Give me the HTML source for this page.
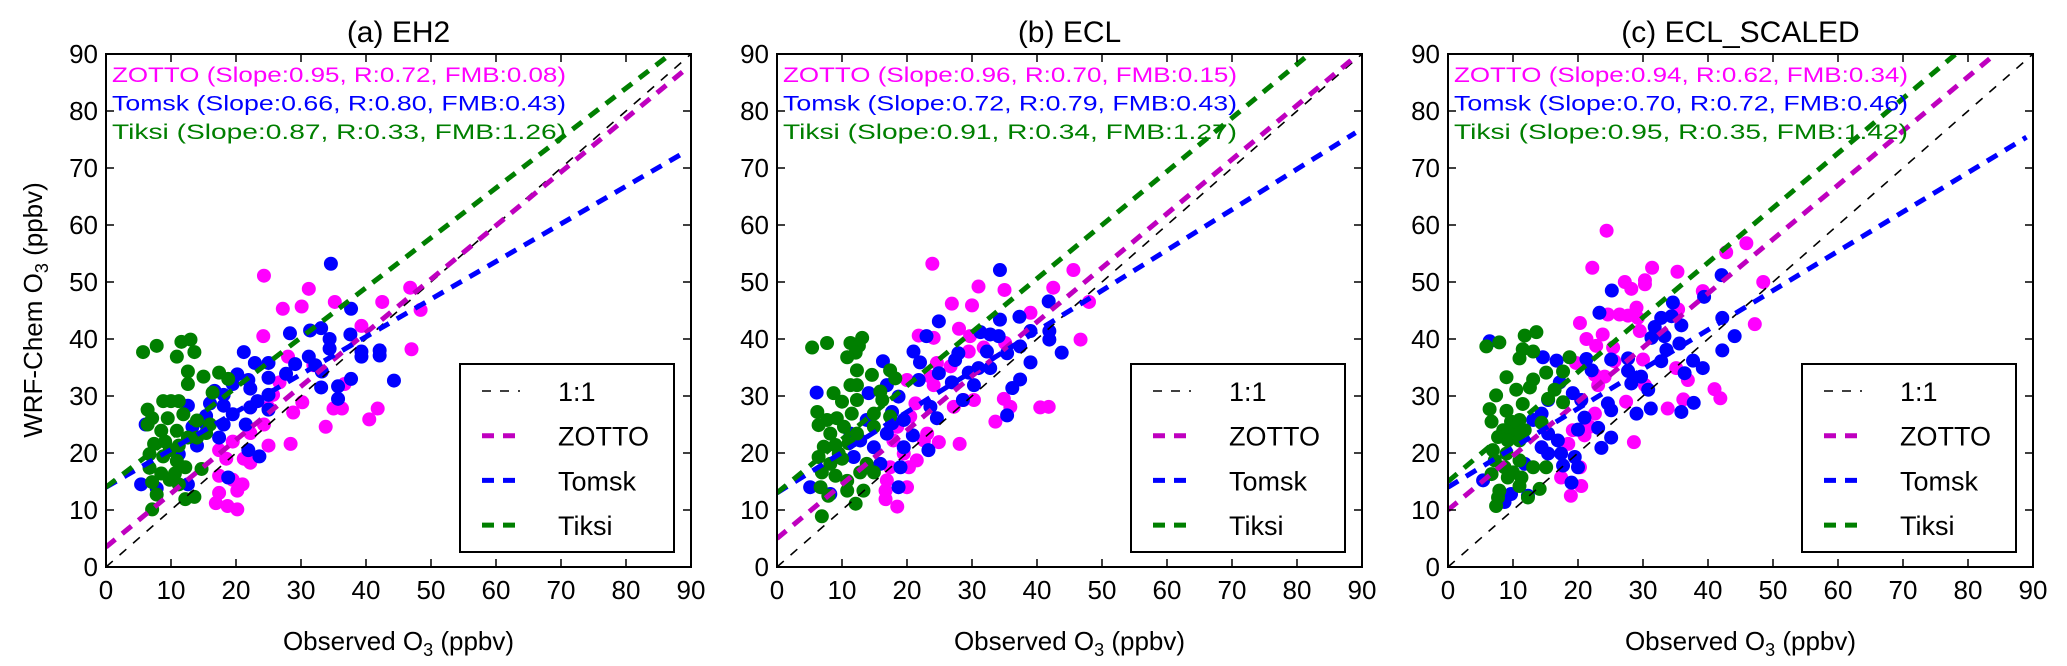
<!DOCTYPE html>
<html><head><meta charset="utf-8"><style>
body{margin:0;background:#fff;}
svg{display:block;font-family:"Liberation Sans",sans-serif;}
</style></head><body>
<svg id="chart" width="2067" height="666" viewBox="0 0 2067 666"></svg>
<script>
const panelTitles = ["(a) EH2", "(b) ECL", "(c) ECL_SCALED"];
const axisTicks = [0,10,20,30,40,50,60,70,80,90];
const seriesNames = ["ZOTTO","Tomsk","Tiksi"];
const statsA = ["ZOTTO (Slope:0.95, R:0.72, FMB:0.08)","Tomsk (Slope:0.66, R:0.80, FMB:0.43)","Tiksi (Slope:0.87, R:0.33, FMB:1.26)"];
const statsB = ["ZOTTO (Slope:0.96, R:0.70, FMB:0.15)","Tomsk (Slope:0.72, R:0.79, FMB:0.43)","Tiksi (Slope:0.91, R:0.34, FMB:1.27)"];
const statsC = ["ZOTTO (Slope:0.94, R:0.62, FMB:0.34)","Tomsk (Slope:0.70, R:0.72, FMB:0.46)","Tiksi (Slope:0.95, R:0.35, FMB:1.42)"];
// regression lines: [intercept, slope]
const fitA = [[3.5,0.94],[14,0.66],[14,0.875]];
const fitB = [[5,0.95],[13,0.71],[13,0.94]];
const fitC = [[10,0.95],[14,0.69],[15,0.96]];
const zottoA = [[24.3,51.1],[31.2,48.8],[27.2,45.3],[30.1,45.7],[35.2,46.5],[42.5,46.5],[46.8,49],[48.4,45.1],[39.3,42.3],[24.2,40.5],[28,36.9],[47,38.2],[30.2,28.9],[28.8,27.1],[35,27.8],[36.3,27.8],[41.8,27.8],[40.5,25.9],[33.8,24.6],[28.4,21.6],[25,21.3],[22.2,23.5],[25,28],[26.7,32.4],[22.2,28],[19.5,22],[17.4,20.5],[21.2,19],[17.4,16],[19.5,15.3],[21,14.5],[17.4,13],[16.9,11.2],[18.7,10.7],[20.2,13.4],[22.2,18.3],[36.7,32.1],[31.9,35.4],[25.7,30.2],[24.3,25],[18.5,19],[20.2,10.1]];
const tomskA = [[34.6,53.2],[37.7,45.3],[31.4,41.5],[33.1,41.9],[34.4,40],[34.4,38.3],[28.3,41],[21.2,37.7],[37.6,40.8],[39.3,37.8],[39.3,36.9],[42.1,38],[42.1,37.1],[44.3,32.7],[37.7,33],[35.7,31.7],[33.1,31.5],[35.7,29.5],[29.1,35.6],[31.2,36.9],[32.2,35.4],[33.2,34.3],[25,35.8],[22.9,35.8],[27.7,33.9],[25,33.2],[21.9,32.8],[20.2,33.8],[19.5,32.1],[22.2,31.3],[25,30.2],[23.3,29.1],[22.2,28],[25,27.6],[18.1,30.2],[16.7,30.9],[16,28.7],[18.1,28.3],[19.5,26.8],[18.1,25],[15.4,25],[17.4,22.7],[14,21.3],[11.2,19.8],[21.5,25],[21.9,20.5],[23.6,19.4],[18.8,15.7],[12.6,14.5],[7.8,13.8],[5.4,14.5],[6.1,25],[13.3,24.6],[12.6,28.3],[15.4,26.5]];
const tiksiA = [[5.7,37.7],[7.8,38.8],[10.9,36.9],[11.6,39.5],[13,39.9],[13.6,37.7],[12.6,34.3],[12.6,32.1],[15,33.4],[17.4,34.1],[18.8,33],[16.4,30.6],[8.8,29.1],[10,29.1],[11.2,29.1],[6.4,27.6],[7.1,26.1],[9.5,26.1],[11.9,26.8],[14,25.7],[16,25],[6.4,25],[8.5,23.9],[10.9,23.9],[12.6,22.7],[7.4,21.6],[9.1,22],[11.2,21.3],[14,22.7],[15.4,23.5],[6.7,19.8],[8.8,19.4],[10.9,18.6],[6.7,17.4],[8.5,16.4],[10.6,16.4],[12.2,17.5],[14.7,17.2],[7.1,14.9],[9.8,15.3],[11.2,14.5],[7.8,12.7],[12.2,11.9],[13.6,12.3],[7.1,10.1],[9.8,20.5]];
const zottoB = [[23.9,53.2],[31,49.2],[35,48.6],[26.9,46.2],[30,45.9],[45.6,52.1],[42.5,49],[48,46.5],[39,44.6],[28,41.8],[21.8,40.6],[24.1,40.2],[29.7,40.5],[35.1,39.3],[46.7,39.9],[29.5,37.8],[24.6,35.8],[26.7,35.2],[23.6,33.4],[20,32.8],[24.1,31.9],[28.7,29.3],[30.3,29.3],[27.2,28.1],[34.9,29.5],[35.9,28.1],[40.5,28],[41.8,28.1],[33.6,25.5],[21.3,28.7],[20.5,26.4],[23.1,23.4],[24.9,21.9],[28.1,21.6],[17.9,22.2],[19.5,19.9],[21.5,18.7],[17.4,17.5],[20.3,17.5],[16.9,15.2],[20,14],[16.7,13.4],[16.7,11.9],[18.5,10.6],[22.6,22.2],[18.5,24.6],[31.8,38.5]];
const tomskB = [[34.3,52.1],[41.8,46.6],[24.9,43.1],[34.3,43.4],[37.3,43.9],[39,41.4],[41.9,41.4],[41.9,39.9],[43.8,37.6],[31.3,41.2],[32.8,40.8],[34.1,40.5],[37.4,38.7],[32.3,37.8],[35.4,37.5],[39,35.9],[27.9,37.5],[27.4,36.3],[23,40.5],[21,37.8],[22,35.9],[16.3,36.1],[24.9,34],[29.5,34.1],[31,34.9],[32.8,34.9],[26.9,32.4],[30.3,31.9],[37.4,32.9],[36.2,31.4],[28.6,29.3],[35.4,26.6],[21.8,32.8],[16.9,31.9],[14.1,30.5],[6.1,30.6],[18.7,29.9],[17.7,27.2],[23.6,28.1],[24.6,26.1],[19.5,25.8],[16.9,23.4],[13.8,25.8],[12.8,22.2],[14.9,21],[19.5,21],[23.3,20.5],[15.9,18.1],[19,17.5],[11.8,19.3],[11.3,23.4],[5.1,14],[8.2,12.8],[18.7,14],[20.9,23.1],[17.7,25.2]];
const tiksiB = [[5.4,38.5],[7.7,39.3],[11.3,39.3],[13.1,40.2],[12.6,38.8],[12.1,37.6],[10.8,36.8],[12.3,34.5],[14.6,33.7],[17.4,34.5],[18.2,33.1],[11.3,31.9],[12.3,31.9],[8.7,30.5],[10,29],[12.3,29.3],[15.9,30.8],[16.2,29.3],[6.2,27.2],[7.7,25.8],[9.2,26.1],[11.5,26.9],[14.9,26.9],[6.4,24.9],[8.2,23.4],[10.3,24.6],[12.3,23.4],[14.9,24.6],[17.4,26.4],[7.2,21.1],[9,21.4],[11,21.7],[6.4,19.3],[8.2,18.1],[10,19],[6.9,16.6],[9,16],[10.8,15.1],[12.8,16.6],[14.9,16.6],[6.7,14],[7.9,12.5],[10.8,13.4],[13.3,13.4],[12.1,11.1],[6.9,8.9],[9.5,19.9],[13.8,18.1]];
const zottoC = [[24.4,59],[22.2,52.5],[31.4,52.5],[35.3,51.8],[27.2,50],[30.3,50.3],[28.2,48.8],[30.3,49.6],[45.9,56.8],[42.8,55.2],[48.5,50],[39.2,48.4],[24.6,44.3],[26.4,44.3],[27.7,44.1],[29,45.5],[29.2,43.7],[20.3,42.8],[35.4,45.2],[47.2,42.6],[29.5,41.4],[21.3,40],[23.8,40.8],[22.8,38.8],[25.4,38.5],[19.7,35.8],[25.6,36.1],[30,36.4],[35.1,34.9],[36.9,32.8],[22.6,33.7],[24.1,33.4],[23.1,31.9],[41,31.2],[41.9,29.6],[36.2,29.4],[33.8,27.8],[27.4,29],[30.3,31.9],[20.5,29.3],[22.6,26.9],[19.2,24],[21,23.1],[18.5,21.6],[20.3,17.5],[17.4,15.7],[20.5,14.2],[18.9,12.5],[28.6,21.9],[21.8,24.6]];
const tomskC = [[42.1,51.2],[25.2,48.5],[34.6,46.4],[39.4,47.4],[23.3,44.6],[32.8,43.7],[34.4,44],[35.9,42.4],[31.8,42.1],[42.2,43.7],[44.1,40.5],[31.3,40.2],[33.3,40.5],[35.6,39.2],[42.2,38],[33.6,38.1],[32.8,36.1],[37.7,36.2],[39.2,34.9],[36.4,34],[27.7,36.6],[25.1,36.4],[14.6,36.8],[16.7,36.2],[21.3,36.5],[27.7,34.4],[29.7,33.4],[28.2,32.2],[22.1,34.5],[17.2,32.4],[19.2,30.5],[20.5,29.3],[24.6,28.7],[25.1,27.5],[30.8,31.1],[31.2,27.8],[29,26.9],[35.9,27.2],[37.8,28.8],[15.4,29.3],[14.4,26.9],[13.1,25.8],[21,26.2],[20,24.1],[23.1,24.4],[15.4,23.4],[16.9,22.2],[25.1,22.7],[23.6,20.9],[14.4,21],[17.4,19.9],[19.5,19.3],[17.7,17.8],[20,17.5],[19,14.8],[11.8,18.1],[5.4,15.2],[9.7,12.8],[8.7,11.4],[12.3,12.5],[6.4,39.6],[15.4,19.9]];
const tiksiC = [[5.9,38.7],[7.9,39.4],[11.8,40.6],[13.6,41.2],[11.5,38.2],[13.1,37.8],[11,36.6],[18.7,36.8],[9,33.3],[13.1,32.9],[15.1,34.1],[17.7,34.3],[12.6,31.5],[10.5,31.1],[7.4,30.1],[16.4,31.1],[15.4,29.5],[17.7,28.9],[11.5,28.6],[6.4,27.7],[9,27.4],[6.7,25.5],[9.7,25.5],[11,25.8],[14.4,25.3],[8.5,24],[10.3,23.7],[11.8,24],[7.7,22.8],[9.2,22.2],[11,22.2],[6.9,20.5],[9,19.9],[11,18.7],[7.2,18.7],[8.7,17.5],[10,16.6],[13.1,17.5],[15.1,17.5],[6.7,16.3],[9.2,15.7],[11.3,15.7],[11,14.2],[7.9,13.4],[14.1,13.7],[7.7,12.2],[7.4,10.7],[12.3,12.2]];

const NS = "http://www.w3.org/2000/svg";
const svg = document.getElementById("chart");
function mk(tag, attrs, parent){const e=document.createElementNS(NS,tag);for(const k in attrs)e.setAttribute(k,attrs[k]);(parent||svg).appendChild(e);return e;}

const panels = [
 {left:106, title:panelTitles[0], stats:statsA, fit:fitA, pts:[zottoA,tomskA,tiksiA], key:"a"},
 {left:777, title:panelTitles[1], stats:statsB, fit:fitB, pts:[zottoB,tomskB,tiksiB], key:"b"},
 {left:1448, title:panelTitles[2], stats:statsC, fit:fitC, pts:[zottoC,tomskC,tiksiC], key:"c"}
];
const TOP=54, W=585, H=513, XMAX=90, YMAX=90;
const ptColors=["#ff00ff","#0000ff","#007f00"];
const lineColors=["#bf00bf","#0000ff","#007f00"];

panels.forEach((p,pi)=>{
  const g = mk("g",{});
  
  
  const sx = v => p.left + v/XMAX*W;
  const sy = v => TOP + H - v/YMAX*H;
  const clip = mk("clipPath",{id:"clip"+pi},g);
  mk("rect",{x:p.left,y:TOP,width:W,height:H},clip);
  const plot = mk("g",{"clip-path":"url(#clip"+pi+")"},g);
  p.pts.forEach((arr,si)=>{
    const sg = mk("g",{},plot);
    
    
    arr.forEach(d=>{
      const c = mk("circle",{cx:sx(d[0]),cy:sy(d[1]),r:7,fill:ptColors[si]},sg);
      
      
    });
  });
  const one = mk("line",{x1:sx(0),y1:sy(0),x2:sx(90),y2:sy(90),stroke:"#000","stroke-width":1.6,"stroke-dasharray":"9,9"},plot);
  
  
  p.fit.forEach((f,si)=>{
    const b=f[0], m=f[1];
    let xe = 89; if (b+m*xe>90) xe=(90-b)/m;
    const l = mk("line",{x1:sx(0),y1:sy(b),x2:sx(xe),y2:sy(b+m*xe),stroke:lineColors[si],"stroke-width":5,"stroke-dasharray":"12,9"},plot);
    
    
  });
  const fr = mk("rect",{x:p.left,y:TOP,width:W,height:H,fill:"none",stroke:"#000","stroke-width":2},g);
  
  
  axisTicks.forEach(t=>{
    const X=sx(t), Y=sy(t);
    mk("line",{x1:X,y1:TOP+H,x2:X,y2:TOP+H-8,stroke:"#000","stroke-width":1.5},g);
    mk("line",{x1:X,y1:TOP,x2:X,y2:TOP+8,stroke:"#000","stroke-width":1.5},g);
    mk("line",{x1:p.left,y1:Y,x2:p.left+8,y2:Y,stroke:"#000","stroke-width":1.5},g);
    mk("line",{x1:p.left+W,y1:Y,x2:p.left+W-8,y2:Y,stroke:"#000","stroke-width":1.5},g);
    const xl = mk("text",{x:X,y:TOP+H+32,"font-size":26,"text-anchor":"middle"},g);
    xl.textContent=t;
    
    
    const yl = mk("text",{x:p.left-8,y:Y+9,"font-size":26,"text-anchor":"end"},g);
    yl.textContent=t;
    
    
  });
  const tt = mk("text",{x:p.left+W/2,y:42,"font-size":30,"text-anchor":"middle"},g);
  tt.textContent=p.title;
  
  
  const xlab = mk("text",{x:p.left+W/2,y:650,"font-size":26,"text-anchor":"middle"},g);
  xlab.innerHTML='Observed O<tspan font-size="18" dy="6">3</tspan><tspan dy="-6"> (ppbv)</tspan>';
  
  
  p.stats.forEach((s,si)=>{
    const st = mk("text",{x:p.left+6,y:82+si*28.5,"font-size":21,fill:ptColors[si],textLength:454,lengthAdjust:"spacingAndGlyphs"},g);
    st.textContent=s;
    
    
  });
  const lg = mk("g",{},g);
  
  
  mk("rect",{x:p.left+354,y:364,width:214,height:188,fill:"#fff",stroke:"#000","stroke-width":2},lg);
  const labels=["1:1"].concat(seriesNames);
  const lcol=["#000"].concat(lineColors);
  labels.forEach((lab,i)=>{
    const cy=391+i*44.7;
    const ln = mk("line",{x1:p.left+376,y1:cy,x2:p.left+414,y2:cy,stroke:lcol[i],"stroke-width":i?5:1.6,"stroke-dasharray":i?"12,9":"9,9"},lg);
    
    
    const lt = mk("text",{x:p.left+452,y:cy+10,"font-size":27},lg);
    lt.textContent=lab;
    
    
  });
});
const yt = mk("text",{x:0,y:0,"font-size":26,"text-anchor":"middle",transform:"translate(42,310) rotate(-90)"});
yt.innerHTML='WRF-Chem O<tspan font-size="18" dy="6">3</tspan><tspan dy="-6"> (ppbv)</tspan>';


</script>
</body></html>
